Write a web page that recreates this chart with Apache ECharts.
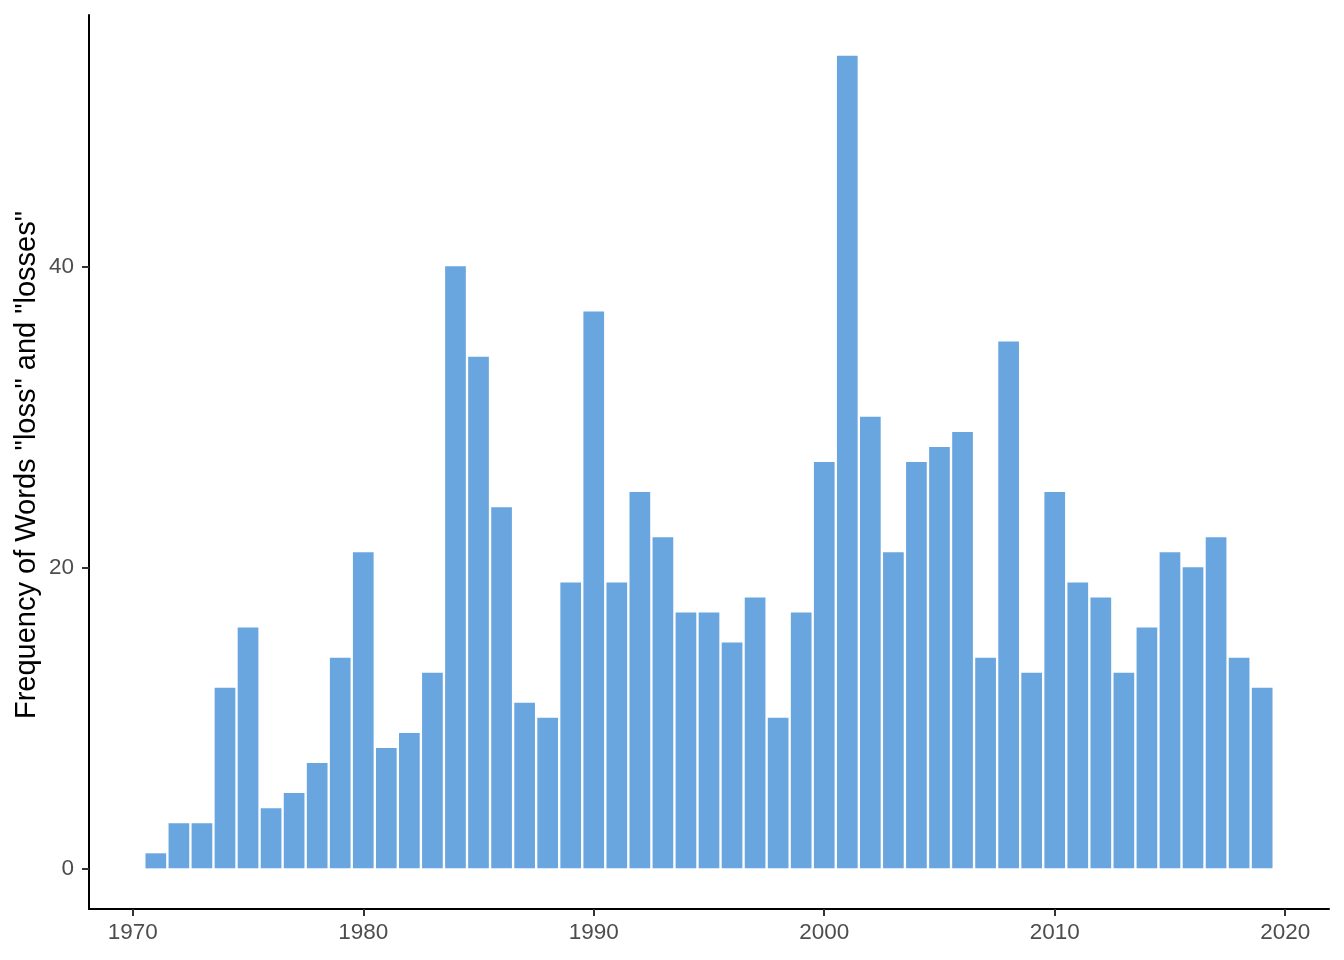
<!DOCTYPE html>
<html>
<head>
<meta charset="utf-8">
<script src="https://cdn.jsdelivr.net/npm/echarts@6/dist/echarts.min.js"></script>
<style>
html,body{margin:0;padding:0;background:#fff;}
#chart{width:1344px;height:960px;}
</style>
</head>
<body>
<div id="chart"></div>
<script>
const years = [1971,1972,1973,1974,1975,1976,1977,1978,1979,1980,1981,1982,1983,1984,1985,1986,1987,1988,1989,1990,1991,1992,1993,1994,1995,1996,1997,1998,1999,2000,2001,2002,2003,2004,2005,2006,2007,2008,2009,2010,2011,2012,2013,2014,2015,2016,2017,2018,2019];
const counts = [1,3,3,12,16,4,5,7,14,21,8,9,13,40,34,24,11,10,19,37,19,25,22,17,17,15,18,10,17,27,54,30,21,27,28,29,14,35,13,25,19,18,13,16,21,20,22,14,12];
const xTicks = [1970,1980,1990,2000,2010,2020];
const yTicks = [0,20,40];
const yTitle = 'Frequency of Words "loss" and "losses"';

const chart = echarts.init(document.getElementById('chart'), null, {renderer:'canvas'});
const font = 'Liberation Sans, Arial, sans-serif';
chart.setOption({
  animation:false,
  backgroundColor:'#ffffff',
  grid:{left:89,right:15,top:15,bottom:51,containLabel:false},
  xAxis:{
    type:'value', min:1968.1, max:2021.9,
    splitLine:{show:false},
    axisLine:{show:true,onZero:false,lineStyle:{color:'#000',width:2}},
    axisTick:{show:true,customValues:xTicks,length:7,lineStyle:{color:'#333',width:2}},
    axisLabel:{customValues:xTicks,color:'#4D4D4D',fontSize:22.5,fontFamily:font,margin:12,formatter:v=>String(v)}
  },
  yAxis:{
    type:'value', min:-2.7, max:56.7,
    splitLine:{show:false},
    axisLine:{show:true,onZero:false,lineStyle:{color:'#000',width:2}},
    axisTick:{show:true,customValues:yTicks,length:7,lineStyle:{color:'#333',width:2}},
    axisLabel:{customValues:yTicks,color:'#4D4D4D',fontSize:22.5,fontFamily:font,margin:15,formatter:v=>String(v)},
    name:yTitle, nameLocation:'middle', nameGap:48, nameMoveOverlap:false,
    nameTextStyle:{color:'#000',fontSize:29,fontFamily:font,padding:[0,6,0,0]}
  },
  series:[{
    type:'bar',
    data: years.map((y,i)=>[y,counts[i]]),
    barWidth:20.7,
    itemStyle:{color:'#69A6DF'}
  }]
});
</script>
</body>
</html>
